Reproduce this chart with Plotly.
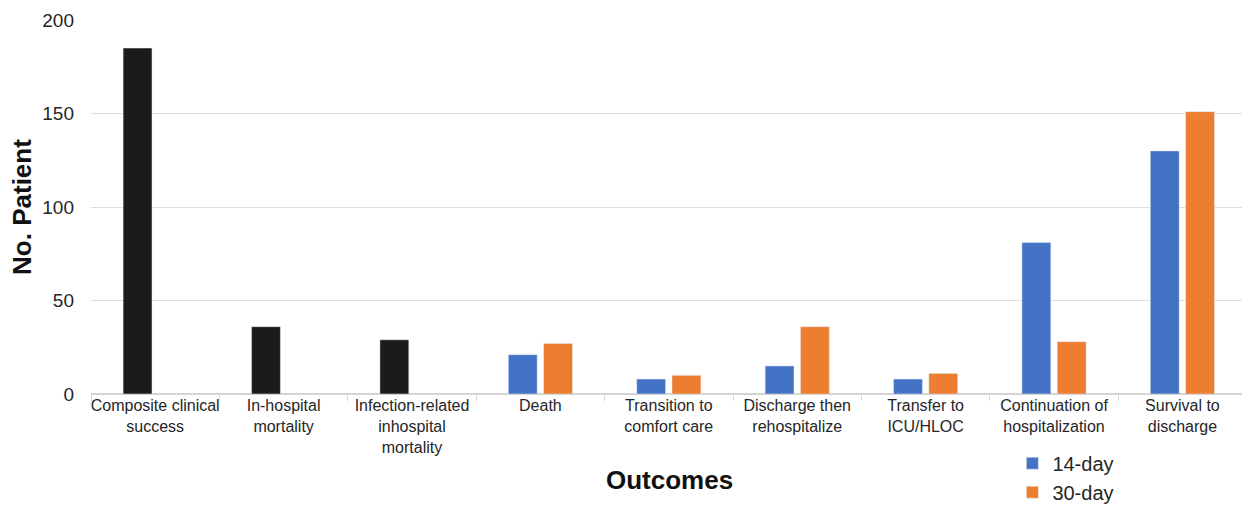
import plotly.graph_objects as go

categories = [
    "Composite clinical<br>success",
    "In-hospital<br>mortality",
    "Infection-related<br>inhospital<br>mortality",
    "Death",
    "Transition to<br>comfort care",
    "Discharge then<br>rehospitalize",
    "Transfer to<br>ICU/HLOC",
    "Continuation of<br>hospitalization",
    "Survival to<br>discharge",
]
overall_cats = categories[:3]
overall_vals = [185, 36, 29]
timed_cats = categories[3:]
day14_vals = [21, 8, 15, 8, 81, 130]
day30_vals = [27, 10, 36, 11, 28, 151]
y_ticks = [0, 50, 100, 150, 200]

FONT = "Liberation Sans, Arial, sans-serif"
BAR_W = 0.225

fig = go.Figure()
fig.add_trace(go.Bar(x=overall_cats, y=overall_vals, marker_color="#1b1b1b",
                     width=BAR_W, offset=-0.25, showlegend=False))
fig.add_trace(go.Bar(x=timed_cats, y=day14_vals, name="14-day", marker_color="#4472C4",
                     width=BAR_W, offset=-0.25))
fig.add_trace(go.Bar(x=timed_cats, y=day30_vals, name="30-day", marker_color="#ED7D31",
                     width=BAR_W, offset=0.025))

fig.update_layout(
    width=1242, height=505,
    margin=dict(l=91, r=0, t=20, b=111, autoexpand=False),
    paper_bgcolor="white", plot_bgcolor="white",
    barmode="overlay",
    font=dict(family=FONT, color="#262626"),
    legend=dict(x=0.8005, y=-0.133, xanchor="left", yanchor="top",
                font=dict(size=20, color="#262626"), tracegroupgap=0,
                bgcolor="rgba(0,0,0,0)"),
    xaxis=dict(
        categoryorder="array", categoryarray=categories,
        range=[-0.5, 8.464], automargin=False,
        tickangle=0,
        tickson="boundaries", ticks="outside", ticklen=6, tickcolor="#d9d9d9",
        tickfont=dict(size=16, color="#262626"),
        showgrid=False, showline=False,
    ),
    yaxis=dict(
        range=[0, 200], tickvals=y_ticks, automargin=False,
        gridcolor="#dedede", gridwidth=1,
        zeroline=True, zerolinecolor="#d4d4d4", zerolinewidth=1.5,
        showline=False, ticks="",
        tickfont=dict(size=19, color="#262626"),
        ticklabelstandoff=16,
    ),
    annotations=[
        dict(text="<b>Outcomes</b>", xref="paper", yref="paper",
             x=0.5026, y=-0.23, xanchor="center", yanchor="middle", showarrow=False,
             font=dict(size=26, color="#111111")),
        dict(text="<b>No. Patient</b>", xref="paper", yref="paper",
             x=-0.06, y=0.5, xanchor="center", yanchor="middle", showarrow=False,
             textangle=-90, font=dict(size=26, color="#111111")),
    ],
)

fig.write_html("out.html")
